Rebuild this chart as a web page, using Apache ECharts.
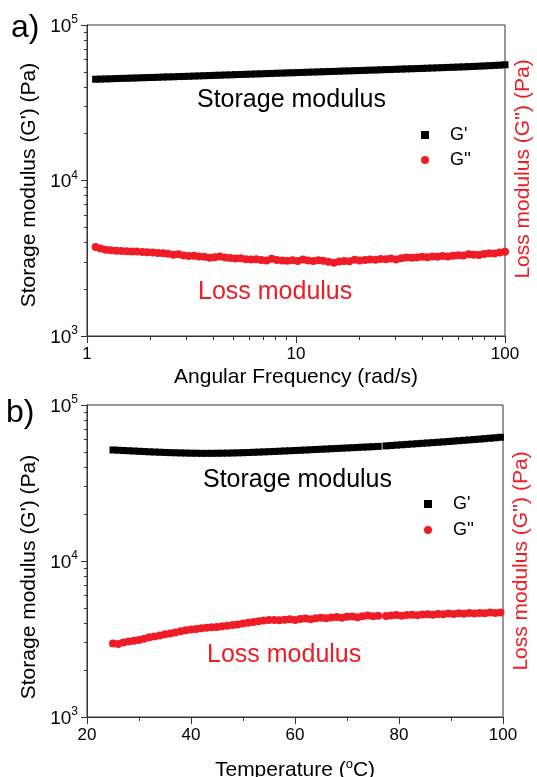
<!DOCTYPE html>
<html>
<head>
<meta charset="utf-8">
<script src="https://cdn.jsdelivr.net/npm/echarts@6/dist/echarts.min.js"></script>
<style>
  html, body { margin: 0; padding: 0; background: #fff; }
  #chart { width: 537px; height: 777px; }
</style>
</head>
<body>
<div id="chart"></div>
<script>
// panel a) frequency sweep
let freqA = [
  1.10, 1.16, 1.23, 1.30, 1.38, 1.46, 1.55, 1.64, 1.73, 1.84,
  1.94, 2.06, 2.18, 2.31, 2.44, 2.59, 2.74, 2.90, 3.07, 3.25,
  3.44, 3.64, 3.86, 4.08, 4.32, 4.58, 4.85, 5.13, 5.43, 5.75,
  6.09, 6.45, 6.83, 7.23, 7.65, 8.10, 8.58, 9.08, 9.62, 10.2,
  10.8, 11.4, 12.1, 12.8, 13.5, 14.3, 15.2, 16.1, 17.0, 18.0,
  19.1, 20.2, 21.4, 22.6, 24.0, 25.4, 26.9, 28.4, 30.1, 31.9,
  33.7, 35.7, 37.8, 40.1, 42.4, 44.9, 47.5, 50.3, 53.3, 56.4,
  59.7, 63.2, 67.0, 70.9, 75.1, 79.5, 84.1, 89.1, 94.3, 100
];
let storageA = [
  44800, 44900, 45000, 45100, 45250, 45350, 45450, 45550, 45650, 45800,
  45900, 46000, 46100, 46250, 46350, 46450, 46600, 46700, 46800, 46950,
  47050, 47200, 47300, 47450, 47550, 47700, 47800, 47950, 48050, 48200,
  48300, 48450, 48550, 48700, 48800, 48950, 49050, 49200, 49300, 49450,
  49550, 49700, 49800, 49950, 50050, 50200, 50300, 50450, 50600, 50700,
  50850, 50950, 51100, 51250, 51350, 51500, 51650, 51750, 51900, 52050,
  52200, 52300, 52450, 52600, 52750, 52900, 53050, 53200, 53350, 53500,
  53650, 53800, 54000, 54150, 54350, 54550, 54750, 54950, 55200, 55500
];
let lossA = [
  3730, 3650, 3590, 3560, 3540, 3520, 3510, 3500, 3490, 3470,
  3450, 3440, 3420, 3410, 3380, 3330, 3360, 3290, 3270, 3280,
  3250, 3230, 3190, 3210, 3240, 3200, 3170, 3150, 3160, 3120,
  3100, 3120, 3080, 3060, 3140, 3080, 3060, 3050, 3070, 3040,
  3110, 3060, 3040, 3070, 3050, 3000, 2960, 3010, 3040, 3030,
  3090, 3060, 3080, 3110, 3090, 3130, 3120, 3150, 3110, 3160,
  3200, 3180, 3200, 3230, 3210, 3240, 3230, 3270, 3250, 3280,
  3300, 3290, 3360, 3330, 3320, 3370, 3410, 3390, 3440, 3480
];

// panel b) temperature sweep, two runs with a small gap near 77 C
let tempB = [
  25, 26, 27, 28, 29, 30, 31, 32, 33, 34,
  35, 36, 37, 38, 39, 40, 41, 42, 43, 44,
  45, 46, 47, 48, 49, 50, 51, 52, 53, 54,
  55, 56, 57, 58, 59, 60, 61, 62, 63, 64,
  65, 66, 67, 68, 69, 70, 71, 72, 73, 74,
  75, 76,
  77.5, 78.5, 79.5, 80.5, 81.5, 82.5, 83.5, 84.5, 85.5, 86.5,
  87.5, 88.5, 89.5, 90.5, 91.5, 92.5, 93.5, 94.5, 95.5, 96.5,
  97.5, 98.5, 99.5
];
let storageB = [
  51500, 51300, 51100, 50900, 50700, 50500, 50300, 50100, 49950, 49800,
  49650, 49500, 49400, 49300, 49200, 49100, 49050, 49000, 49000, 49000,
  49050, 49100, 49150, 49250, 49350, 49450, 49600, 49750, 49900, 50050,
  50200, 50400, 50550, 50750, 50900, 51100, 51250, 51450, 51650, 51850,
  52050, 52250, 52450, 52650, 52850, 53050, 53250, 53450, 53650, 53850,
  54050, 54300,
  54700, 55000, 55300, 55600, 55900, 56200, 56500, 56800, 57100, 57400,
  57700, 58000, 58350, 58700, 59050, 59400, 59750, 60100, 60450, 60850,
  61250, 61650, 62100
];
let lossB = [
  2960, 2940, 3000, 3050, 3080, 3120, 3170, 3240, 3280, 3330,
  3390, 3430, 3480, 3540, 3600, 3640, 3660, 3700, 3730, 3760,
  3780, 3820, 3850, 3890, 3910, 3980, 4020, 4070, 4110, 4150,
  4180, 4190, 4170, 4200, 4230, 4190, 4250, 4280, 4240, 4300,
  4320, 4290, 4340, 4370, 4330, 4390, 4410, 4360, 4430, 4470,
  4420, 4450,
  4440, 4480, 4500, 4460, 4510, 4530, 4490, 4540, 4560, 4520,
  4580, 4550, 4600, 4570, 4620, 4590, 4640, 4600, 4650, 4620,
  4670, 4640, 4680
];

// ticks
let yMajor = [1000, 10000, 100000];
let yMinor = [2000, 3000, 4000, 5000, 6000, 7000, 8000, 9000,
  20000, 30000, 40000, 50000, 60000, 70000, 80000, 90000];
let freqMajor = [1, 10, 100];
let freqMinor = [2, 3, 4, 5, 6, 7, 8, 9, 20, 30, 40, 50, 60, 70, 80, 90];
let seriesNames = ["G'", "G''"];

let font = '"Liberation Sans", Arial, sans-serif';
let lineColor = '#333';
let red = '#ee1c25';

function zip(xs, ys) {
  return xs.map(function(x, i) { return [x, ys[i]]; });
}

function leftLog(grid, name, pad, gap) {
  return {
    type: 'log', logBase: 10, gridIndex: grid, position: 'left',
    min: 1000, max: 100000,
    axisLine: { show: true, lineStyle: { color: lineColor, width: 1 } },
    axisTick: { show: true, length: 6, customValues: yMajor, lineStyle: { color: lineColor } },
    axisLabel: {
      customValues: yMajor,
      margin: 9,
      fontSize: 19, fontFamily: font, color: '#000',
      formatter: function(v) {
        return '{b|10}{s|' + Math.round(Math.log10(v)) + '}';
      },
      rich: {
        b: { fontSize: 19, fontFamily: font, color: '#000', lineHeight: 22, verticalAlign: 'bottom' },
        s: { fontSize: 12, fontFamily: font, color: '#000', lineHeight: 12, verticalAlign: 'top' }
      }
    },
    splitLine: { show: false },
    name: name, nameLocation: 'middle', nameGap: gap,
    nameTextStyle: { fontSize: 21, fontFamily: font, color: '#000', padding: pad }
  };
}

function leftMinor(grid) {
  return {
    type: 'log', logBase: 10, gridIndex: grid, position: 'left',
    min: 1000, max: 100000,
    axisLine: { show: false },
    axisTick: { show: true, length: 3, customValues: yMinor, lineStyle: { color: lineColor } },
    axisLabel: { show: false },
    splitLine: { show: false }
  };
}

function rightLog(grid, pad) {
  return {
    type: 'log', logBase: 10, gridIndex: grid, position: 'right',
    min: 1000, max: 100000,
    axisLine: { show: false },
    axisTick: { show: false },
    axisLabel: { show: false },
    splitLine: { show: false },
    name: "Loss modulus (G'') (Pa)", nameLocation: 'middle', nameGap: 8,
    nameTextStyle: { fontSize: 21, fontFamily: font, color: red, padding: pad }
  };
}

function legendAt(left, top, gap) {
  return {
    orient: 'vertical', left: left, top: top,
    itemWidth: 8, itemHeight: 8, itemGap: gap,
    selectedMode: false,
    textStyle: { fontSize: 18, fontFamily: font, color: '#000', padding: [0, 0, 0, 16] },
    data: seriesNames
  };
}

function label(text, x, y, size, color) {
  return {
    type: 'text', x: x, y: y, silent: true,
    style: { text: text, font: size + 'px ' + font, fill: color, verticalAlign: 'middle' }
  };
}

function scatter(name, xi, yi, shape, size, color, data) {
  return {
    name: name, type: 'scatter', xAxisIndex: xi, yAxisIndex: yi,
    symbol: shape, symbolSize: size,
    itemStyle: { color: color, opacity: 1 },
    emphasis: { disabled: true },
    data: data
  };
}

let option = {
  animation: false,
  backgroundColor: '#fff',
  grid: [
    { left: 87, top: 25, width: 418, height: 311, show: true, borderColor: lineColor, borderWidth: 1, outerBoundsMode: 'none' },
    { left: 87, top: 405, width: 416, height: 312, show: true, borderColor: lineColor, borderWidth: 1, outerBoundsMode: 'none' }
  ],
  xAxis: [
    {
      type: 'log', logBase: 10, gridIndex: 0, min: 1, max: 100, position: 'bottom',
      axisLine: { show: true, lineStyle: { color: lineColor } },
      axisTick: { show: true, length: 7, customValues: freqMajor, lineStyle: { color: lineColor } },
      axisLabel: { customValues: freqMajor, margin: 10, fontSize: 17, fontFamily: font, color: '#000' },
      splitLine: { show: false },
      name: 'Angular Frequency (rad/s)', nameLocation: 'middle', nameGap: 31,
      nameTextStyle: { fontSize: 21, fontFamily: font, color: '#000' }
    },
    {
      type: 'log', logBase: 10, gridIndex: 0, min: 1, max: 100, position: 'bottom',
      axisLine: { show: false },
      axisTick: { show: true, length: 4, customValues: freqMinor, lineStyle: { color: lineColor } },
      axisLabel: { show: false },
      splitLine: { show: false }
    },
    {
      type: 'value', gridIndex: 1, min: 20, max: 100, interval: 20, position: 'bottom',
      axisLine: { show: true, lineStyle: { color: lineColor } },
      axisTick: { show: true, length: 7, lineStyle: { color: lineColor } },
      minorTick: { show: true, splitNumber: 2, length: 4, lineStyle: { color: lineColor } },
      axisLabel: { margin: 10, fontSize: 17, fontFamily: font, color: '#000' },
      splitLine: { show: false },
      name: 'Temperature ({s|o}C)', nameLocation: 'middle', nameGap: 41,
      nameTextStyle: {
        fontSize: 21, fontFamily: font, color: '#000', lineHeight: 24,
        rich: { s: { fontSize: 13, fontFamily: font, color: '#000', lineHeight: 13, verticalAlign: 'top' } }
      }
    }
  ],
  yAxis: [
    leftLog(0, "Storage modulus (G') (Pa)", [0, 9, 0, 0], 44),
    leftMinor(0),
    rightLog(0, [0, 0, 0, 23]),
    leftLog(1, "Storage modulus (G') (Pa)", [0, 32, 0, 0], 44),
    leftMinor(1),
    rightLog(1, [0, 0, 0, 0])
  ],
  legend: [legendAt(416, 121, 7), legendAt(419, 490, 8)],
  graphic: [
    label('a)', 11, 28, 32, '#000'),
    label('b)', 6, 413, 32, '#000'),
    label('Storage modulus', 197, 100, 25, '#000'),
    label('Loss modulus', 198, 292, 25, red),
    label('Storage modulus', 203, 480, 25, '#000'),
    label('Loss modulus', 207, 655, 25, red)
  ],
  series: [
    scatter(seriesNames[0], 0, 0, 'rect', 7, '#000', zip(freqA, storageA)),
    scatter(seriesNames[1], 0, 0, 'circle', 8, red, zip(freqA, lossA)),
    scatter(seriesNames[0], 2, 3, 'rect', 7, '#000', zip(tempB, storageB)),
    scatter(seriesNames[1], 2, 3, 'circle', 8, red, zip(tempB, lossB))
  ]
};

let chart = echarts.init(document.getElementById('chart'));
chart.setOption(option);
</script>
</body>
</html>
